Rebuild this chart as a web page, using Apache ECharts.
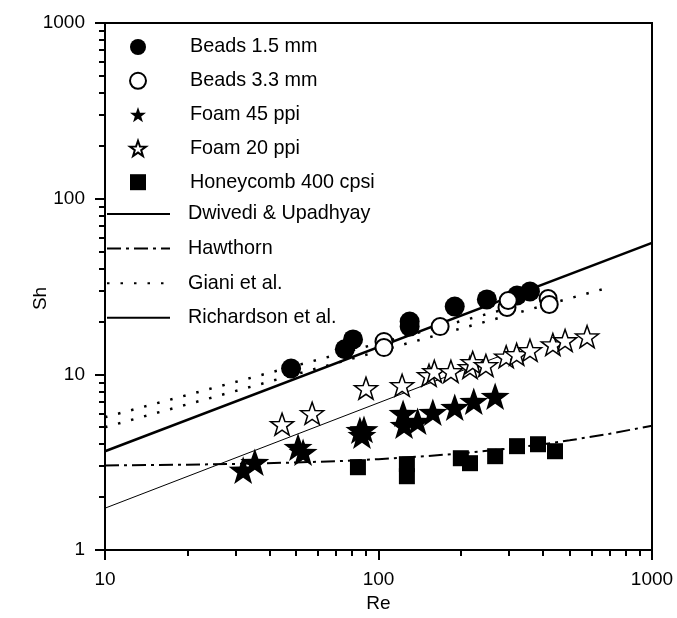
<!DOCTYPE html>
<html>
<head>
<meta charset="utf-8">
<script src="https://cdn.jsdelivr.net/npm/echarts@6/dist/echarts.min.js"></script>
<style>html,body{margin:0;padding:0;background:#fff;}#c{width:677px;height:618px;}</style>
</head>
<body>
<div id="c"></div>
<script>
// ---- data: [Re, Sh] ----
const beads15 = [[47.9,10.8],[75.3,13.9],[80.7,15.8],[130,20.0],[130,18.7],[190,24.3],[249,26.7],[321,28.1],[358,29.6]];
const beads33 = [[104.7,15.4],[104.7,14.2],[168,18.7],[295,24.0],[298,26.3],[417,27.0],[421,25.0]];
const foam45 = [[32.0,2.85],[35.3,3.16],[50.8,3.85],[53.0,3.60],[85.5,4.81],[88.5,4.86],[87,4.5],[123,6.0],[124,5.13],[139,5.41],[158,6.08],[190,6.49],[223,7.03],[267,7.50]];
const foam20 = [[44.4,5.2],[57.2,6.0],[90,8.33],[122,8.66],[153,9.87],[160,10.4],[184,10.4],[216,10.96],[221,11.7],[247,11.25],[293,12.6],[320,13.0],[358,13.7],[434,14.8],[481,15.6],[579,16.4]];
const honeycomb = [[84.1,2.96],[127,3.08],[127,2.63],[200,3.33],[216,3.12],[267,3.42],[321,3.90],[383,4.0],[442,3.65]];
const dwivedi = [[10,3.65],[1000,56]];
const hawthorn = [[10,3.03],[20,3.06],[30,3.09],[50,3.15],[70,3.20],[100,3.29],[150,3.42],[200,3.55],[300,3.78],[400,4.00],[500,4.21],[700,4.59],[1000,5.10]];
const gianiA = [[10,5.7],[330,24.8]];
const gianiB = [[10,5.0],[710,31.5]];
const richardson = [[10,1.73],[300,13.3]];
const xMinor = [20,30,40,50,60,70,80,90,200,300,400,500,600,700,800,900];
const yMinor = [2,3,4,5,6,7,8,9,20,30,40,50,60,70,80,90,200,300,400,500,600,700,800,900];
const pointNames = ['Beads 1.5 mm','Beads 3.3 mm','Foam 45 ppi','Foam 20 ppi','Honeycomb 400 cpsi'];
const lineNames = ['Dwivedi & Upadhyay','Hawthorn','Giani et al.','Richardson et al.'];

const FONT = '"Liberation Sans", Arial, sans-serif';
const STAR = 'path://M50,0 L61.76,33.82 L97.55,34.55 L69.02,56.18 L79.39,90.45 L50,70 L20.61,90.45 L30.98,56.18 L2.45,34.55 L38.24,33.82 Z';
const SQUARE = 'path://M0,0 L10,0 L10,10 L0,10 Z';

const chart = echarts.init(document.getElementById('c'), null, {renderer:'canvas'});
const baseAxis = {
  type:'log', logBase:10,
  axisLine:{show:true, onZero:false, lineStyle:{color:'#000', width:2}},
  axisTick:{show:true, inside:false, length:10, lineStyle:{color:'#000', width:2}},
  axisLabel:{color:'#000', fontSize:19, fontFamily:FONT, formatter:v=>String(Math.round(v))},
  splitLine:{show:false}, minorTick:{show:false}, minorSplitLine:{show:false},
  nameMoveOverlap:false,
  nameTextStyle:{color:'#000', fontSize:19, fontFamily:FONT}
};
const minorAxis = (vals)=>({
  type:'log', logBase:10,
  axisLine:{show:false},
  axisTick:{show:true, inside:false, length:6, customValues:vals, lineStyle:{color:'#000', width:2}},
  axisLabel:{show:false}, splitLine:{show:false}
});
const lineSeries = (name, data, style) => ({
  name, type:'line', data, symbol:'none', showSymbol:false, smooth:false,
  itemStyle:{color:'#000'},
  lineStyle:Object.assign({color:'#000'}, style), z:3, silent:true
});
chart.setOption({
  animation:false,
  backgroundColor:'#fff',
  textStyle:{fontFamily:FONT},
  grid:{left:105, right:25, top:23, bottom:67, show:true, borderColor:'#000', borderWidth:2, backgroundColor:'transparent'},
  xAxis:[
    Object.assign({}, baseAxis, {min:10, max:1000, position:'bottom', name:'Re', nameLocation:'middle', nameGap:44,
      axisLabel:Object.assign({}, baseAxis.axisLabel, {margin:20})}),
    Object.assign(minorAxis(xMinor), {min:10, max:1000, position:'bottom', gridIndex:0})
  ],
  yAxis:[
    Object.assign({}, baseAxis, {min:1, max:1000, position:'left', name:'Sh', nameLocation:'middle', nameGap:55,
      nameTextStyle:{color:'#000', fontSize:19, fontFamily:FONT, padding:[0,24,0,0]},
      axisLabel:Object.assign({}, baseAxis.axisLabel, {margin:20})}),
    Object.assign(minorAxis(yMinor), {min:1, max:1000, position:'left', gridIndex:0})
  ],
  legend:[
    {data:pointNames, orient:'vertical', left:124, top:32, itemWidth:16, itemHeight:16, itemGap:13.8,
     selectedMode:false, textStyle:{color:'#000', fontSize:19.8, fontFamily:FONT, padding:[0,0,0,39]}},
    {data:lineNames, orient:'vertical', left:101, top:199, itemWidth:63, itemHeight:14, itemGap:14.6,
     selectedMode:false, itemStyle:{opacity:0, borderWidth:0},
     textStyle:{color:'#000', fontSize:19.8, fontFamily:FONT, padding:[0,0,0,13]}}
  ],
  series:[
    lineSeries('Dwivedi & Upadhyay', dwivedi, {width:2.5, type:'solid'}),
    lineSeries('Hawthorn', hawthorn, {width:2, type:[14,5,3,5]}),
    lineSeries('Giani et al.', gianiA, {width:2.5, type:[2.5,11]}),
    lineSeries('Giani et al.', gianiB, {width:2.5, type:[2.5,11]}),
    lineSeries('Richardson et al.', richardson, {width:1, type:'solid'}),
    {name:'Beads 1.5 mm', type:'scatter', data:beads15, symbol:'circle', symbolSize:20, itemStyle:{color:'#000', opacity:1}, z:4},
    {name:'Beads 3.3 mm', type:'scatter', data:beads33, symbol:'circle', symbolSize:17, itemStyle:{color:'#fff', borderColor:'#000', borderWidth:2, opacity:1}, z:4},
    {name:'Foam 45 ppi', type:'scatter', data:foam45, symbol:STAR, symbolKeepAspect:true, symbolSize:29, itemStyle:{color:'#000', opacity:1}, z:4},
    {name:'Foam 20 ppi', type:'scatter', data:foam20, symbol:STAR, symbolKeepAspect:true, symbolSize:23, itemStyle:{color:'#fff', borderColor:'#000', borderWidth:1.5, opacity:1}, z:4},
    {name:'Honeycomb 400 cpsi', type:'scatter', data:honeycomb, symbol:SQUARE, symbolKeepAspect:true, symbolSize:16, itemStyle:{color:'#000', opacity:1}, z:4}
  ]
});
</script>
</body>
</html>
